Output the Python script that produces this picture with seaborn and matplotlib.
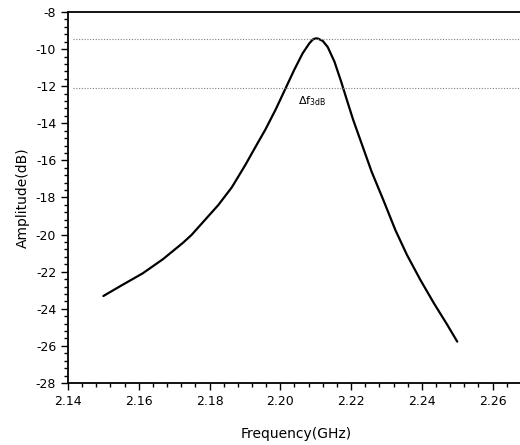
import numpy as np
import pandas as pd
import seaborn as sns
import matplotlib.pyplot as plt
from matplotlib.ticker import MultipleLocator

# 데이터
freq = [2.1500, 2.1553, 2.1611, 2.1668, 2.1725, 2.1749, 2.1787, 2.1825, 2.1863,
        2.1901, 2.1929, 2.1958, 2.1987, 2.2015, 2.2039, 2.2063, 2.2082, 2.2092,
        2.2100, 2.2106, 2.2120, 2.2134, 2.2153, 2.2172, 2.2191, 2.2206, 2.2258,
        2.2291, 2.2325, 2.2358, 2.2396, 2.2434, 2.2472, 2.2500]
amp = [-23.31, -22.72, -22.09, -21.33, -20.44, -20.02, -19.21, -18.40, -17.45,
       -16.25, -15.30, -14.33, -13.25, -12.11, -11.13, -10.23, -9.69, -9.48,
       -9.42, -9.43, -9.56, -9.89, -10.68, -11.76, -12.92, -13.82, -16.61,
       -18.13, -19.75, -21.10, -22.45, -23.70, -24.87, -25.77]
ref_levels = [-9.43, -12.1]   # 최대값, -3dB 기준선
note_text = r'$\Delta\mathrm{f}_{\mathrm{3dB}}$'
note_pos = (2.2089, -12.8)

df = pd.DataFrame({'Frequency(GHz)': freq, 'Amplitude(dB)': amp})

sns.set_style('ticks')
plt.rcParams['font.family'] = ['DejaVu Sans']
plt.rcParams['text.color'] = 'black'
plt.rcParams['axes.labelcolor'] = 'black'
plt.rcParams['xtick.color'] = 'black'
plt.rcParams['ytick.color'] = 'black'

fig = plt.figure(figsize=(5.2, 4.45), dpi=100)
ax = fig.add_axes([68 / 520, 1 - 383 / 445, 1 - 68 / 520 + 0.01, (383 - 12) / 445])

sns.lineplot(data=df, x='Frequency(GHz)', y='Amplitude(dB)', ax=ax,
             color='black', linewidth=1.6)

for lv in ref_levels:
    ax.axhline(lv, xmin=0.01, xmax=1, color='gray', linestyle=(0, (1, 1.5)), linewidth=0.8)

ax.text(note_pos[0], note_pos[1], note_text, fontsize=8, ha='center', va='center')

ax.set_xlim(2.14, 2.2692)
ax.set_ylim(-28, -8)
ax.xaxis.set_major_locator(MultipleLocator(0.02))
ax.xaxis.set_minor_locator(MultipleLocator(0.004))
ax.yaxis.set_major_locator(MultipleLocator(2))
ax.yaxis.set_minor_locator(MultipleLocator(0.4))
ax.xaxis.set_major_formatter(plt.FuncFormatter(lambda v, p: f'{v:.2f}'))
ax.yaxis.set_major_formatter(plt.FuncFormatter(lambda v, p: f'{v:.0f}'))

ax.tick_params(which='major', direction='out', length=5, width=1, labelsize=9, color='black')
ax.tick_params(which='minor', direction='out', length=3, width=1, color='black')

for s in ['left', 'bottom', 'top']:
    ax.spines[s].set_visible(True)
    ax.spines[s].set_linewidth(1.3)
    ax.spines[s].set_color('black')
ax.spines['right'].set_visible(False)

ax.set_xlabel('Frequency(GHz)', fontsize=10, labelpad=14)
ax.set_ylabel('Amplitude(dB)', fontsize=10, labelpad=4)

fig.savefig('out.png', dpi=100)
